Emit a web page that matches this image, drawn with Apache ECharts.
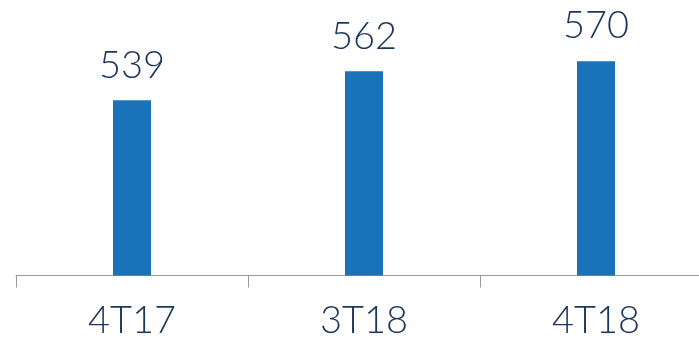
<!DOCTYPE html>
<html lang="en">
<head>
    <meta charset="UTF-8">
    <title>Chart</title>
    <script src="https://cdn.jsdelivr.net/npm/echarts@6/dist/echarts.min.js"></script>
    <style>
        html, body { margin: 0; padding: 0; background: #fff; }
    </style>
</head>
<body>
<div id="main" style="width:699px; height:338px;"></div>
<script>
    var categories = ['4T17', '3T18', '4T18'];
    var values = [539, 562, 570];

    var myChart = echarts.init(document.getElementById('main'));
    var option = {
        animation: false,
        grid: {
            left: 16,
            width: 696,
            top: 23.4,
            bottom: 62.5,
            containLabel: false,
            outerBoundsMode: 'none'
        },
        xAxis: {
            type: 'category',
            data: categories,
            axisLine: { lineStyle: { color: '#9a9a9a', width: 1 } },
            axisTick: { show: true, length: 12, lineStyle: { color: '#9a9a9a' } },
            axisLabel: {
                color: '#1b365d',
                fontSize: 38,
                fontFamily: 'Lato',
                fontWeight: 300,
                margin: 26
            }
        },
        yAxis: {
            type: 'value',
            min: 400,
            max: 600,
            show: false,
            splitLine: { show: false }
        },
        series: [
            {
                type: 'bar',
                data: values,
                barWidth: 38,
                itemStyle: { color: '#1a72b9' },
                label: {
                    show: true,
                    position: 'top',
                    distance: 16,
                    color: '#1b365d',
                    fontSize: 38,
                    fontFamily: 'Lato',
                    fontWeight: 300
                }
            }
        ]
    };
    myChart.setOption(option);
</script>
</body>
</html>
